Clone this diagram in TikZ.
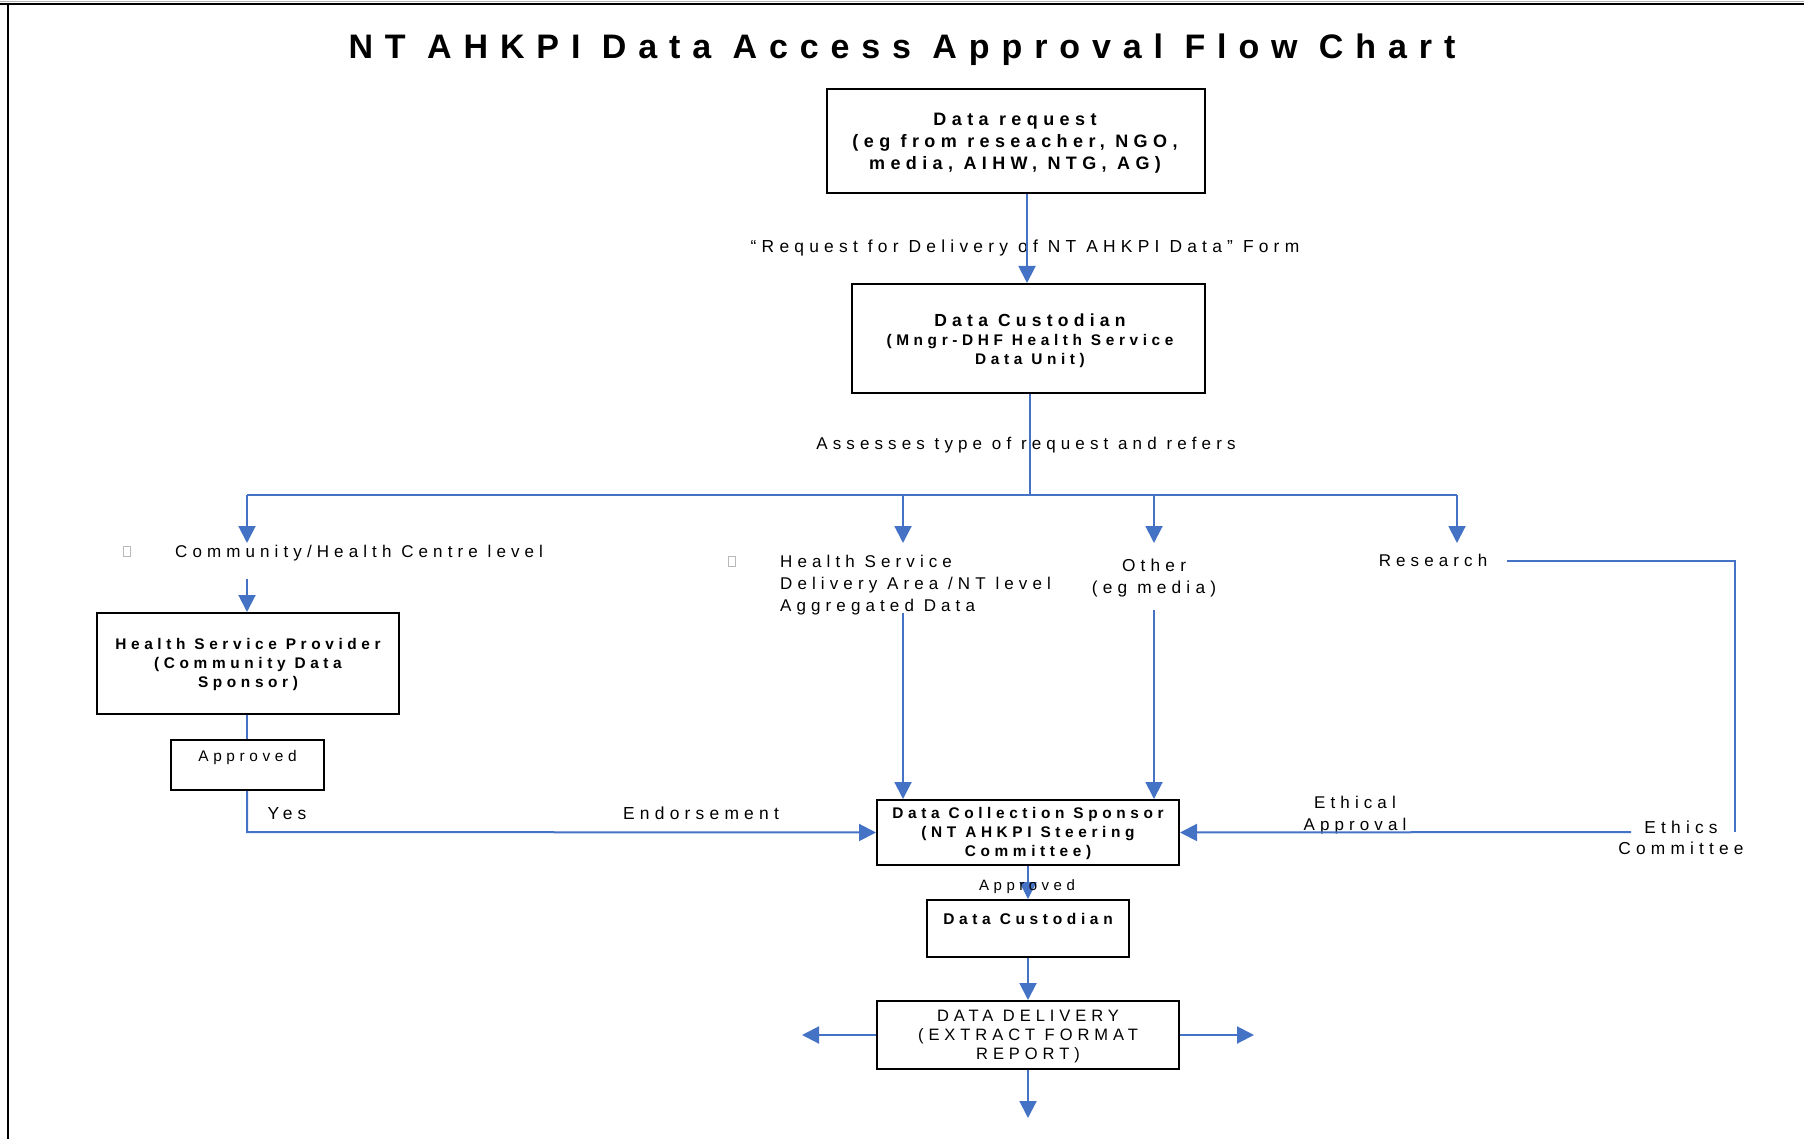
\documentclass[tikz,border=0pt]{standalone}
\usepackage{fontspec}
\setmainfont{Liberation Sans}[LetterSpace=30]
\usetikzlibrary{arrows.meta}
\definecolor{lblue}{RGB}{68,114,196}
\begin{document}
\begin{tikzpicture}[x=1pt,y=-1pt,
  box/.style={draw=black, line width=2pt, inner sep=0pt},
  conn/.style={draw=lblue, line width=2pt},
  arr/.style={conn, -{Triangle[length=17pt,width=17pt]}},
  txt/.style={inner sep=0pt, align=center, font=\fontsize{17}{22}\selectfont},
  btxt/.style={txt, font=\fontsize{18}{22}\selectfont\bfseries},
  stxt/.style={txt, font=\fontsize{15.4}{19}\selectfont\bfseries},
  tofu/.style={draw=gray!55, line width=0.8pt, minimum width=7pt, minimum height=10pt, inner sep=0pt}]
\useasboundingbox (0,0) rectangle (1804,1139);
% frame
\draw[line width=2.5pt, black] (0,4) -- (1804,4);
\draw[line width=1pt, gray!60] (0,1.5) -- (1804,1.5);
\draw[line width=2.5pt, black] (8,4) -- (8,1139);
% title
\node[inner sep=0pt, font=\fontsize{34}{40}\selectfont\bfseries\addfontfeature{LetterSpace=35}] (title) at (902,50) {NT AHKPI Data Access Approval Flow Chart};
% boxes
\node[box, minimum width=378pt, minimum height=104pt] (dr) at (1016,141) {};
\node[box, minimum width=353pt, minimum height=109pt] (dc) at (1028.5,338.5) {};
\node[box, minimum width=302pt, minimum height=101pt] (hsp) at (248,663.5) {};
\node[box, minimum width=153pt, minimum height=50pt] (appr) at (247.5,765) {};
\node[box, minimum width=302pt, minimum height=65pt] (dcs) at (1028,832.5) {};
\node[box, minimum width=202pt, minimum height=57pt] (dc2) at (1028,928.5) {};
\node[box, minimum width=302pt, minimum height=68pt] (dd) at (1028,1035) {};
% box texts
\node[btxt] (drt) at (1015,143.5) {Data request\\(eg from reseacher, NGO,\\media, AIHW, NTG, AG)};
\node[btxt, font=\fontsize{17.5}{22}\selectfont\bfseries] (dct1) at (1030,320) {Data Custodian};
\node[txt, font=\fontsize{15.4}{19}\selectfont\bfseries] (dct2) at (1030,351) {(Mngr-DHF Health Service\\Data Unit)};
\node[stxt] (hspt) at (248,664.5) {Health Service Provider\\(Community Data\\Sponsor)};
\node[txt, font=\fontsize{15.4}{19}\selectfont] (apprt) at (247.5,757.5) {Approved};
\node[stxt] (dcst) at (1028,833.5) {Data Collection Sponsor\\(NT AHKPI Steering\\Committee)};
\node[btxt, font=\fontsize{15.5}{19}\selectfont\bfseries] (dc2t) at (1028,919) {Data Custodian};
\node[txt, font=\fontsize{16.5}{19}\selectfont] (ddt) at (1028,1036.5) {DATA DELIVERY\\(EXTRACT FORMAT\\REPORT)};
% labels
\node[txt, font=\fontsize{17.4}{22}\selectfont] (form) at (1025,248.5) {“Request for Delivery of NT AHKPI Data” Form};
\node[txt] (assess) at (1026,445.5) {Assesses type of request and refers};
\node[tofu] (tofu1) at (127,551) {};
\node[txt, anchor=west] (comm) at (175,553.5) {Community/Health Centre level};
\node[tofu] (tofu2) at (732,561) {};
\node[txt, align=left, anchor=west] (hsd) at (780,585.5) {Health Service\\Delivery Area /NT level\\Aggregated Data};
\node[txt, font=\fontsize{17.3}{22}\selectfont] (other) at (1154,578) {Other\\(eg media)};
\node[txt] (research) at (1433,560.5) {Research};
\node[txt, font=\fontsize{17.3}{21}\selectfont] (ethics) at (1681,837.5) {Ethics\\Committee};
\node[txt] (ethical) at (1355,815.5) {Ethical\\Approval};
\node[txt, font=\fontsize{17.4}{22}\selectfont] (yes) at (287,813.5) {Yes};
\node[txt, font=\fontsize{17.4}{22}\selectfont] (endorse) at (701,813.5) {Endorsement};
% coordinates
\coordinate (split) at (1030,495);
\coordinate (b1) at (247,495);
\coordinate (b4) at (1457,495);
\coordinate (t1) at (247,543);
\coordinate (t2) at (903,543);
\coordinate (t3) at (1154,543);
\coordinate (t4) at (1457,543);
\coordinate (c1) at (247,579);
\coordinate (s2) at (903,613);
\coordinate (s3) at (1154,610);
\coordinate (r1) at (1507,561);
\coordinate (r2) at (1735,561);
\coordinate (r3) at (1735,832);
\coordinate (e1) at (1631,832);
\coordinate (y1) at (247,832);
\coordinate (ol) at (802,1035);
\coordinate (or) at (1254,1035);
\coordinate (od) at (1028,1118);
% connectors
\draw[arr] (dr.south -| 1027,0) -- (dc.north -| 1027,0);
\draw[conn] (dc.south -| split) -- (split);
\draw[conn] (b1) -- (b4);
\draw[arr] (b1) -- (t1);
\draw[arr] (t2 |- split) -- (t2);
\draw[arr] (t3 |- split) -- (t3);
\draw[arr] (b4) -- (t4);
\draw[arr] (c1) -- (hsp.north -| c1);
\draw[conn] (hsp.south -| c1) -- (appr.north -| c1);
\draw[arr] (appr.south -| y1) -- (y1) -- (dcs.west);
\draw[arr] (s2) -- (dcs.north -| s2);
\draw[arr] (s3) -- (dcs.north -| s3);
\draw[conn] (r1) -- (r2) -- (r3);
\draw[arr] (e1) -- (dcs.east);
\draw[arr] (dcs.south) -- (dc2.north);
\draw[arr] (dc2.south) -- (dd.north);
\draw[arr] (dd.west) -- (ol);
\draw[arr] (dd.east) -- (or);
\draw[arr] (dd.south) -- (od);
% label over line
\node[txt, font=\fontsize{15}{19}\selectfont] (approved2) at (1027,886.5) {Approved};
\end{tikzpicture}
\end{document}
